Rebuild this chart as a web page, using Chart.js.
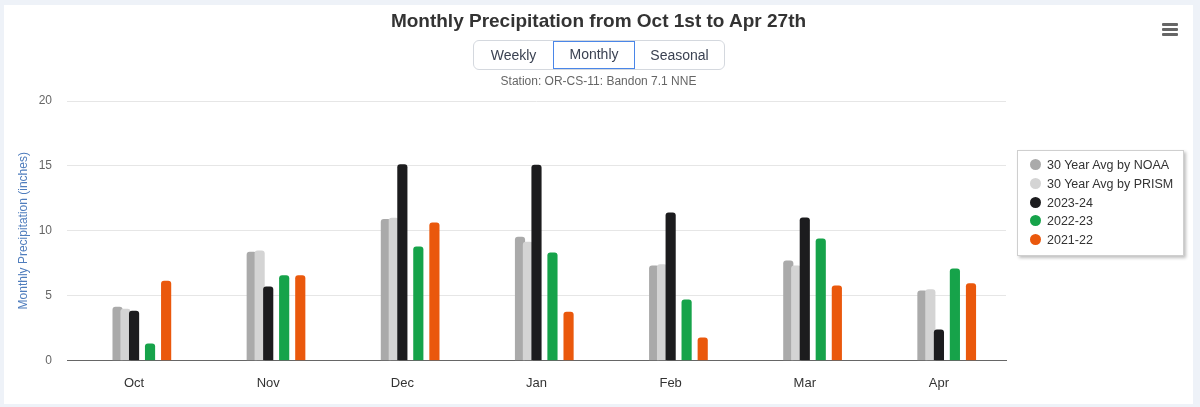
<!DOCTYPE html>
<html>
<head>
<meta charset="utf-8">
<script src="https://cdn.jsdelivr.net/npm/chart.js@4.4.1/dist/chart.umd.min.js"></script>
<style>
  html, body { margin: 0; padding: 0; }
  body { width: 1200px; height: 407px; background: #eef2f8; font-family: 'Liberation Sans', Arial, sans-serif; position: relative; overflow: hidden; }
  .card { position: absolute; left: 4px; top: 5px; width: 1189px; height: 399px; background: #fff; }
  #precipChart { position: absolute; left: 0; top: 0; }
  .title { position: absolute; left: 0; right: 0; top: 5px; text-align: center; font-size: 19px; font-weight: bold; color: #333; }
  .menu { position: absolute; left: 1158px; top: 18px; width: 16px; }
  .menu span { display: block; height: 3px; background: #666; margin-bottom: 2px; border-radius: 1px; }
  .btns { position: absolute; left: 469px; top: 35px; display: flex; border: 1px solid #d4d8de; border-radius: 6px; height: 28px; overflow: hidden; }
  .btns div { font-size: 14px; color: #3b4252; line-height: 28px; text-align: center; box-sizing: border-box; }
  .btns .on { border: 1.5px solid #4a86e8; line-height: 25px; }
  .sub { position: absolute; left: 0; right: 0; top: 69px; text-align: center; font-size: 12px; color: #666; }
  .legend { position: absolute; left: 1013px; top: 145px; width: 167px; height: 106px; border: 1px solid #cfcfcf; box-shadow: 2px 2px 3px rgba(0,0,0,0.25); background: #fff; box-sizing: border-box; padding-top: 5px; }
  .legend .item { height: 18.75px; line-height: 18.75px; font-size: 12.5px; color: #333; padding-left: 12px; white-space: nowrap; }
  .legend .dot { display: inline-block; width: 11px; height: 11px; border-radius: 50%; vertical-align: -1px; margin-right: 6px; }
</style>
</head>
<body>
<div class="card">
  <canvas id="precipChart" width="1189" height="399"></canvas>
  <div class="title">Monthly Precipitation from Oct 1st to Apr 27th</div>
  <div class="menu"><span></span><span></span><span></span></div>
  <div class="btns">
    <div style="width:79px">Weekly</div>
    <div class="on" style="width:82px">Monthly</div>
    <div style="width:89px">Seasonal</div>
  </div>
  <div class="sub">Station: OR-CS-11: Bandon 7.1 NNE</div>
  <div class="legend" id="legend"></div>
</div>
<script>
  // Monthly totals in inches, Oct..Apr
  const months = ['Oct', 'Nov', 'Dec', 'Jan', 'Feb', 'Mar', 'Apr'];
  const noaaAvg = [4.12, 8.35, 10.88, 9.51, 7.29, 7.68, 5.36];
  const prismAvg = [3.97, 8.45, 10.98, 9.13, 7.40, 7.29, 5.46];
  const season2324 = [3.81, 5.67, 15.10, 15.06, 11.39, 11.00, 2.37];
  const season2223 = [1.29, 6.55, 8.76, 8.30, 4.67, 9.38, 7.06];
  const season2122 = [6.13, 6.55, 10.62, 3.74, 1.75, 5.75, 5.93];
  const yTicks = [0, 5, 10, 15, 20];

  // bar offset inside each month, in month units
  const toPoints = (values, shift) => values.map((v, i) => ({ x: i + shift, y: v }));

  const roundTop = { topLeft: 3, topRight: 3, bottomLeft: 0, bottomRight: 0 };
  const series = [
    { label: '30 Year Avg by NOAA', data: toPoints(noaaAvg, -0.123), backgroundColor: '#aaaaaa', order: 2 },
    { label: '30 Year Avg by PRISM', data: toPoints(prismAvg, -0.064), backgroundColor: '#d4d4d4', order: 1 },
    { label: '2023-24', data: toPoints(season2324, 0), backgroundColor: '#1c1c1e', order: 0 },
    { label: '2022-23', data: toPoints(season2223, 0.119), backgroundColor: '#16a34a', order: 0 },
    { label: '2021-22', data: toPoints(season2122, 0.239), backgroundColor: '#ea580c', order: 0 }
  ];
  series.forEach(s => {
    s.barThickness = 9.5;
    s.grouped = false;
    s.borderRadius = roundTop;
    s.borderSkipped = 'start';
  });

  Chart.defaults.font.family = "'Liberation Sans', Arial, sans-serif";

  const chart = new Chart(document.getElementById('precipChart'), {
    type: 'bar',
    data: { datasets: series },
    options: {
      responsive: false,
      animation: false,
      layout: { padding: { top: 96, right: 187, left: 0, bottom: 0 } },
      plugins: {
        legend: { display: false },
        tooltip: { enabled: false }
      },
      scales: {
        x: {
          type: 'linear',
          min: -0.5,
          max: 6.5,
          offset: false,
          grid: { display: false, offset: false },
          border: { display: true, color: '#666', width: 1 },
          afterBuildTicks: s => { s.ticks = months.map((m, i) => ({ value: i })); },
          ticks: {
            autoSkip: false,
            maxRotation: 0,
            padding: 7,
            color: '#333',
            font: { size: 13 },
            callback: v => months[v] ?? ''
          },
          afterFit: s => { s.height = 43.5; }
        },
        y: {
          min: 0,
          max: 20,
          stacked: false,
          grid: { color: '#e6e6e6', drawTicks: false },
          border: { display: false },
          afterBuildTicks: s => { s.ticks = yTicks.map(v => ({ value: v })); },
          ticks: { padding: 15, color: '#666', font: { size: 12 } },
          title: {
            display: true,
            text: 'Monthly Precipitation (inches)',
            color: '#4f7dbd',
            font: { size: 12 },
            padding: { top: 12, bottom: 0 }
          },
          afterFit: s => { s.width = 63; }
        }
      }
    }
  });

  // html legend from the chart's datasets
  const legendEl = document.getElementById('legend');
  chart.data.datasets.forEach(ds => {
    const row = document.createElement('div');
    row.className = 'item';
    row.innerHTML = '<span class="dot" style="background:' + ds.backgroundColor + '"></span>' + ds.label;
    legendEl.appendChild(row);
  });
</script>
</body>
</html>
